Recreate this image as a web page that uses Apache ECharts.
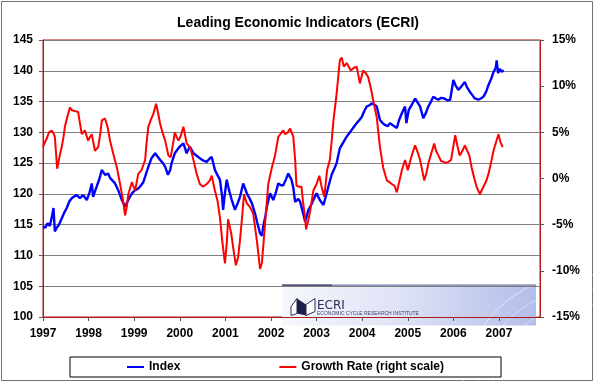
<!DOCTYPE html>
<html>
<head>
<meta charset="utf-8">
<script src="https://cdn.jsdelivr.net/npm/echarts@6/dist/echarts.min.js"></script>
<style>
html,body{margin:0;padding:0;background:#fff;}
#chart{width:596px;height:383px;}
</style>
</head>
<body>
<div id="chart"></div>
<script>
// ---- Data (decimal years) ----
const indexDates = [1997.00,1997.05,1997.10,1997.15,1997.20,1997.23,1997.26,1997.30,1997.35,1997.41,1997.47,1997.52,1997.58,1997.63,1997.69,1997.74,1997.81,1997.88,1997.96,
1998.02,1998.07,1998.10,1998.14,1998.18,1998.24,1998.29,1998.36,1998.43,1998.47,1998.51,1998.58,1998.65,1998.73,1998.80,1998.87,1998.95,
1999.02,1999.08,1999.13,1999.20,1999.24,1999.31,1999.38,1999.46,1999.52,1999.57,1999.63,1999.68,1999.74,1999.79,1999.82,1999.89,1999.95,
2000.00,2000.08,2000.15,2000.22,2000.30,2000.37,2000.44,2000.52,2000.59,2000.65,2000.70,2000.77,2000.83,2000.88,2000.93,2000.95,2000.99,
2001.03,2001.08,2001.14,2001.21,2001.27,2001.32,2001.39,2001.47,2001.52,2001.58,2001.65,2001.70,2001.76,2001.80,2001.83,2001.88,2001.91,2001.98,
2002.05,2002.11,2002.16,2002.22,2002.27,2002.33,2002.38,2002.45,2002.49,2002.53,2002.60,2002.64,2002.70,2002.75,2002.82,2002.88,2002.93,
2003.00,2003.07,2003.15,2003.20,2003.26,2003.33,2003.40,2003.44,2003.51,2003.58,2003.66,2003.72,2003.77,2003.82,2003.88,2003.94,2003.99,
2004.05,2004.10,2004.16,2004.21,2004.27,2004.32,2004.39,2004.45,2004.50,2004.56,2004.61,2004.68,2004.76,2004.81,2004.87,2004.94,2004.97,
2005.02,2005.09,2005.16,2005.22,2005.27,2005.34,2005.40,2005.45,2005.51,2005.56,2005.62,2005.67,2005.73,2005.80,2005.87,2005.93,
2006.00,2006.05,2006.11,2006.18,2006.25,2006.30,2006.36,2006.42,2006.47,2006.55,2006.60,2006.66,2006.72,2006.77,2006.83,2006.88,2006.93,2006.95,2006.98,
2007.02,2007.06,2007.10];
const indexValues = [114.7,114.5,115.2,114.8,116.5,117.7,113.9,114.5,115.0,116.0,117.0,117.7,118.8,119.3,119.6,119.8,119.3,119.8,119.0,
120.2,121.7,119.5,120.4,120.6,122.5,123.9,123.1,123.3,122.6,122.3,121.7,120.6,119.0,117.9,119.0,120.1,
120.6,120.8,121.2,121.9,122.8,124.4,125.8,126.6,126.0,125.5,125.0,124.4,123.1,123.9,125.0,126.6,127.2,
127.7,128.2,126.6,127.7,126.6,126.2,125.8,125.4,125.2,125.7,126.0,123.9,123.0,122.3,119.5,117.4,120.1,
122.3,120.6,119.0,117.4,118.5,119.5,121.7,120.1,119.4,118.5,116.8,115.3,113.6,113.2,114.7,116.5,117.9,120.1,
119.0,120.3,121.7,121.4,121.4,122.4,123.3,122.3,121.0,118.7,119.2,118.7,117.0,115.5,117.4,118.2,119.0,
120.1,119.0,118.2,119.5,121.2,123.1,124.3,125.0,127.4,128.3,129.3,129.9,130.4,130.9,131.5,132.0,132.5,
133.5,134.2,134.4,134.7,134.5,134.2,132.0,131.5,131.2,131.0,131.5,131.1,130.7,132.0,133.1,134.2,131.5,
133.6,134.5,135.5,134.8,134.2,132.3,133.2,134.2,135.0,135.8,135.5,135.3,135.6,135.5,135.2,135.3,
138.5,137.6,136.9,137.5,138.2,137.3,136.6,136.0,135.5,135.3,135.5,135.8,136.6,137.7,138.7,139.8,140.5,141.7,139.6,
140.3,139.8,140.1];

const growthDates = [1997.00,1997.04,1997.08,1997.13,1997.19,1997.23,1997.26,1997.29,1997.31,1997.34,1997.38,1997.41,1997.45,1997.48,1997.53,1997.59,1997.63,1997.66,1997.71,1997.77,1997.81,1997.85,1997.92,1997.99,
1998.03,1998.07,1998.10,1998.14,1998.21,1998.26,1998.29,1998.36,1998.42,1998.47,1998.54,1998.62,1998.69,1998.75,1998.80,1998.84,1998.87,1998.95,
1999.02,1999.09,1999.16,1999.24,1999.27,1999.31,1999.36,1999.42,1999.48,1999.52,1999.57,1999.62,1999.68,1999.75,1999.80,1999.86,1999.89,1999.93,1999.97,
2000.02,2000.08,2000.15,2000.22,2000.26,2000.30,2000.37,2000.44,2000.51,2000.59,2000.66,2000.70,2000.77,2000.83,2000.88,2000.93,2000.99,
2001.03,2001.06,2001.13,2001.18,2001.23,2001.28,2001.32,2001.37,2001.41,2001.47,2001.54,2001.61,2001.69,2001.76,2001.80,2001.87,2001.94,
2002.02,2002.09,2002.16,2002.22,2002.27,2002.31,2002.37,2002.42,2002.49,2002.53,2002.56,2002.62,2002.67,2002.70,2002.74,2002.77,2002.82,2002.86,2002.93,
2003.00,2003.06,2003.11,2003.17,2003.23,2003.29,2003.33,2003.37,2003.44,2003.51,2003.55,2003.60,2003.66,2003.70,2003.75,2003.82,2003.88,2003.95,
2004.02,2004.08,2004.13,2004.19,2004.24,2004.32,2004.39,2004.46,2004.54,2004.60,2004.65,2004.71,2004.76,2004.82,2004.87,2004.94,
2005.00,2005.06,2005.10,2005.16,2005.22,2005.27,2005.32,2005.36,2005.41,2005.45,2005.52,2005.58,2005.62,2005.67,2005.73,2005.78,2005.84,2005.89,2005.95,
2006.00,2006.04,2006.09,2006.14,2006.20,2006.25,2006.29,2006.35,2006.40,2006.46,2006.51,2006.58,2006.62,2006.66,2006.72,2006.77,2006.83,2006.88,2006.94,2006.99,
2007.03,2007.08];
const growthValues = [3.4,3.9,4.3,5.0,5.2,4.9,4.5,2.5,1.05,1.8,2.8,3.4,4.5,5.6,6.6,7.7,7.4,7.2,7.3,7.2,6.0,4.8,5.2,4.1,
4.5,4.8,4.0,3.0,3.4,5.0,6.3,6.5,5.5,4.1,2.7,1.2,-0.6,-2.2,-4.0,-3.0,-1.7,-0.4,
-1.3,0.5,0.9,2.0,3.8,5.6,6.3,7.0,8.1,7.2,5.9,5.0,4.1,2.5,2.3,4.0,5.0,4.5,4.1,
4.6,5.6,3.8,3.4,2.8,2.0,0.5,-0.6,-0.9,-0.6,-0.2,0.3,-1.3,-2.5,-4.2,-6.7,-9.2,
-7.0,-4.4,-6.0,-7.8,-9.4,-8.5,-6.7,-4.0,-1.7,-2.7,-3.1,-3.8,-6.7,-9.8,-9.2,-4.9,-0.6,
1.2,2.5,4.5,4.9,5.2,4.8,5.0,5.4,4.5,2.0,-0.8,-0.9,-0.9,-2.4,-4.0,-5.5,-4.5,-3.5,-1.3,
-0.6,0.3,-0.9,-2.0,0.9,2.0,4.0,6.3,9.2,12.8,13.1,12.1,12.5,12.6,11.7,12.0,12.1,10.3,
11.7,11.4,11.0,9.8,8.5,6.6,3.4,1.2,-0.2,-0.4,-0.6,-0.8,-1.5,-0.2,0.9,2.0,
0.9,2.0,2.7,3.6,2.8,2.0,0.8,-0.2,0.6,1.6,2.8,3.8,3.0,2.5,1.9,1.8,1.7,1.8,2.0,
3.5,4.7,3.5,2.5,3.0,3.6,3.6,2.5,1.2,0.0,-0.9,-1.7,-1.3,-0.9,-0.3,0.5,1.8,3.0,4.0,4.8,
4.0,3.4];

const leftTicks = {min: 100, max: 145, step: 5};
const rightTicks = {min: -15, max: 15, step: 5};
const xRange = {min: 1997, max: 2007.9, step: 1};
const titleText = 'Leading Economic Indicators (ECRI)';
const seriesNames = ['Index', 'Growth Rate (right scale)'];

const zip = (a, b) => a.map((d, i) => [d, b[i]]);
const FONT = 'Liberation Sans, Arial, sans-serif';
const BORDER = '#b01818';

const chart = echarts.init(document.getElementById('chart'), null, {renderer: 'canvas'});
chart.setOption({
  animation: false,
  backgroundColor: '#ffffff',
  title: {
    text: titleText, left: 'center', top: 11,
    textStyle: {fontFamily: FONT, fontWeight: 'bold', fontSize: 14, color: '#000'}
  },
  grid: {left: 43, right: 56, top: 40, bottom: 66, show: true, borderColor: BORDER, borderWidth: 1, backgroundColor: '#fff'},
  legend: {
    left: 70, top: 357, padding: [4, 57, 4, 57], itemGap: 99,
    borderColor: '#000', borderWidth: 1,
    itemWidth: 17, itemHeight: 2, icon: 'rect',
    textStyle: {fontFamily: FONT, fontWeight: 'bold', fontSize: 12, color: '#000'},
    data: seriesNames
  },
  xAxis: {
    type: 'value', min: xRange.min, max: xRange.max, interval: xRange.step,
    axisLine: {show: true, onZero: false, lineStyle: {color: BORDER}},
    axisTick: {show: true, length: 4, lineStyle: {color: '#555'}},
    splitLine: {show: false},
    axisLabel: {margin: 11, showMaxLabel: false, formatter: v => String(Math.round(v)), fontFamily: FONT, fontWeight: 'bold', fontSize: 12, color: '#000'}
  },
  yAxis: [{
    type: 'value', min: leftTicks.min, max: leftTicks.max, interval: leftTicks.step, position: 'left',
    axisLine: {show: true, onZero: false, lineStyle: {color: BORDER}},
    axisTick: {show: true, length: 4, lineStyle: {color: '#555'}},
    splitLine: {show: true, lineStyle: {color: '#808080', width: 1}},
    axisLabel: {margin: 10, fontFamily: FONT, fontWeight: 'bold', fontSize: 12, color: '#000'}
  }, {
    type: 'value', min: rightTicks.min, max: rightTicks.max, interval: rightTicks.step, position: 'right',
    axisLine: {show: true, onZero: false, lineStyle: {color: BORDER}},
    axisTick: {show: true, length: 4, lineStyle: {color: '#555'}},
    splitLine: {show: false},
    axisLabel: {margin: 12, formatter: '{value}%', fontFamily: FONT, fontWeight: 'bold', fontSize: 12, color: '#000'}
  }],
  series: [{
    name: seriesNames[0], type: 'line', yAxisIndex: 0, showSymbol: false, z: 3,
    itemStyle: {color: '#0000ff'}, lineStyle: {color: '#0000ff', width: 2.4},
    data: zip(indexDates, indexValues)
  }, {
    name: seriesNames[1], type: 'line', yAxisIndex: 1, showSymbol: false, z: 4,
    itemStyle: {color: '#ff0000'}, lineStyle: {color: '#ff0000', width: 2},
    data: zip(growthDates, growthValues)
  }],
  graphic: [
    {type: 'rect', z: 0, silent: true, shape: {x: 1.5, y: 1.5, width: 591, height: 379}, style: {fill: null, stroke: '#707070', lineWidth: 1}},
    {type: 'group', left: 282, top: 272, z: 50, children: [
      {type: 'rect', shape: {x: 0, y: 0, width: 254, height: 41}, style: {
        fill: new echarts.graphic.LinearGradient(0, 0, 1, 0, [
          {offset: 0, color: '#f6f7fc'}, {offset: 0.45, color: '#dfe3f5'}, {offset: 1, color: '#b3bdea'}])}},
      {type: 'circle', shape: {cx: 300, cy: 110, r: 120}, style: {fill: null, stroke: 'rgba(255,255,255,0.55)', lineWidth: 1}},
      {type: 'circle', shape: {cx: 300, cy: 110, r: 105}, style: {fill: null, stroke: 'rgba(255,255,255,0.45)', lineWidth: 1}},
      {type: 'circle', shape: {cx: 300, cy: 110, r: 90}, style: {fill: null, stroke: 'rgba(255,255,255,0.45)', lineWidth: 1}},
      {type: 'rect', shape: {x: 0, y: 0, width: 254, height: 1.5}, style: {fill: '#8a90b8'}},
      {type: 'rect', shape: {x: 0, y: 0, width: 50, height: 2.5}, style: {fill: '#4c4c78'}},
      {type: 'polygon', shape: {points: [[9, 22], [15, 14], [15, 29], [9, 31]]}, style: {fill: '#ffffff', stroke: '#2a2a55', lineWidth: 1}},
      {type: 'polygon', shape: {points: [[15, 14], [24, 20], [24, 31], [15, 29]]}, style: {fill: '#1e1e4a'}},
      {type: 'polygon', shape: {points: [[24, 20], [33, 14], [33, 27], [24, 31]]}, style: {fill: '#ffffff', stroke: '#2a2a55', lineWidth: 1}},
      {type: 'text', x: 35, y: 15, style: {text: 'ECRI', fontFamily: 'DejaVu Sans, sans-serif', fontSize: 12, fill: '#2a2a58'}},
      {type: 'text', x: 35, y: 27, style: {text: 'ECONOMIC CYCLE RESEARCH INSTITUTE', fontFamily: FONT, fontSize: 5, fill: '#3c3c6a'}}
    ]}
  ]
});
</script>
</body>
</html>
